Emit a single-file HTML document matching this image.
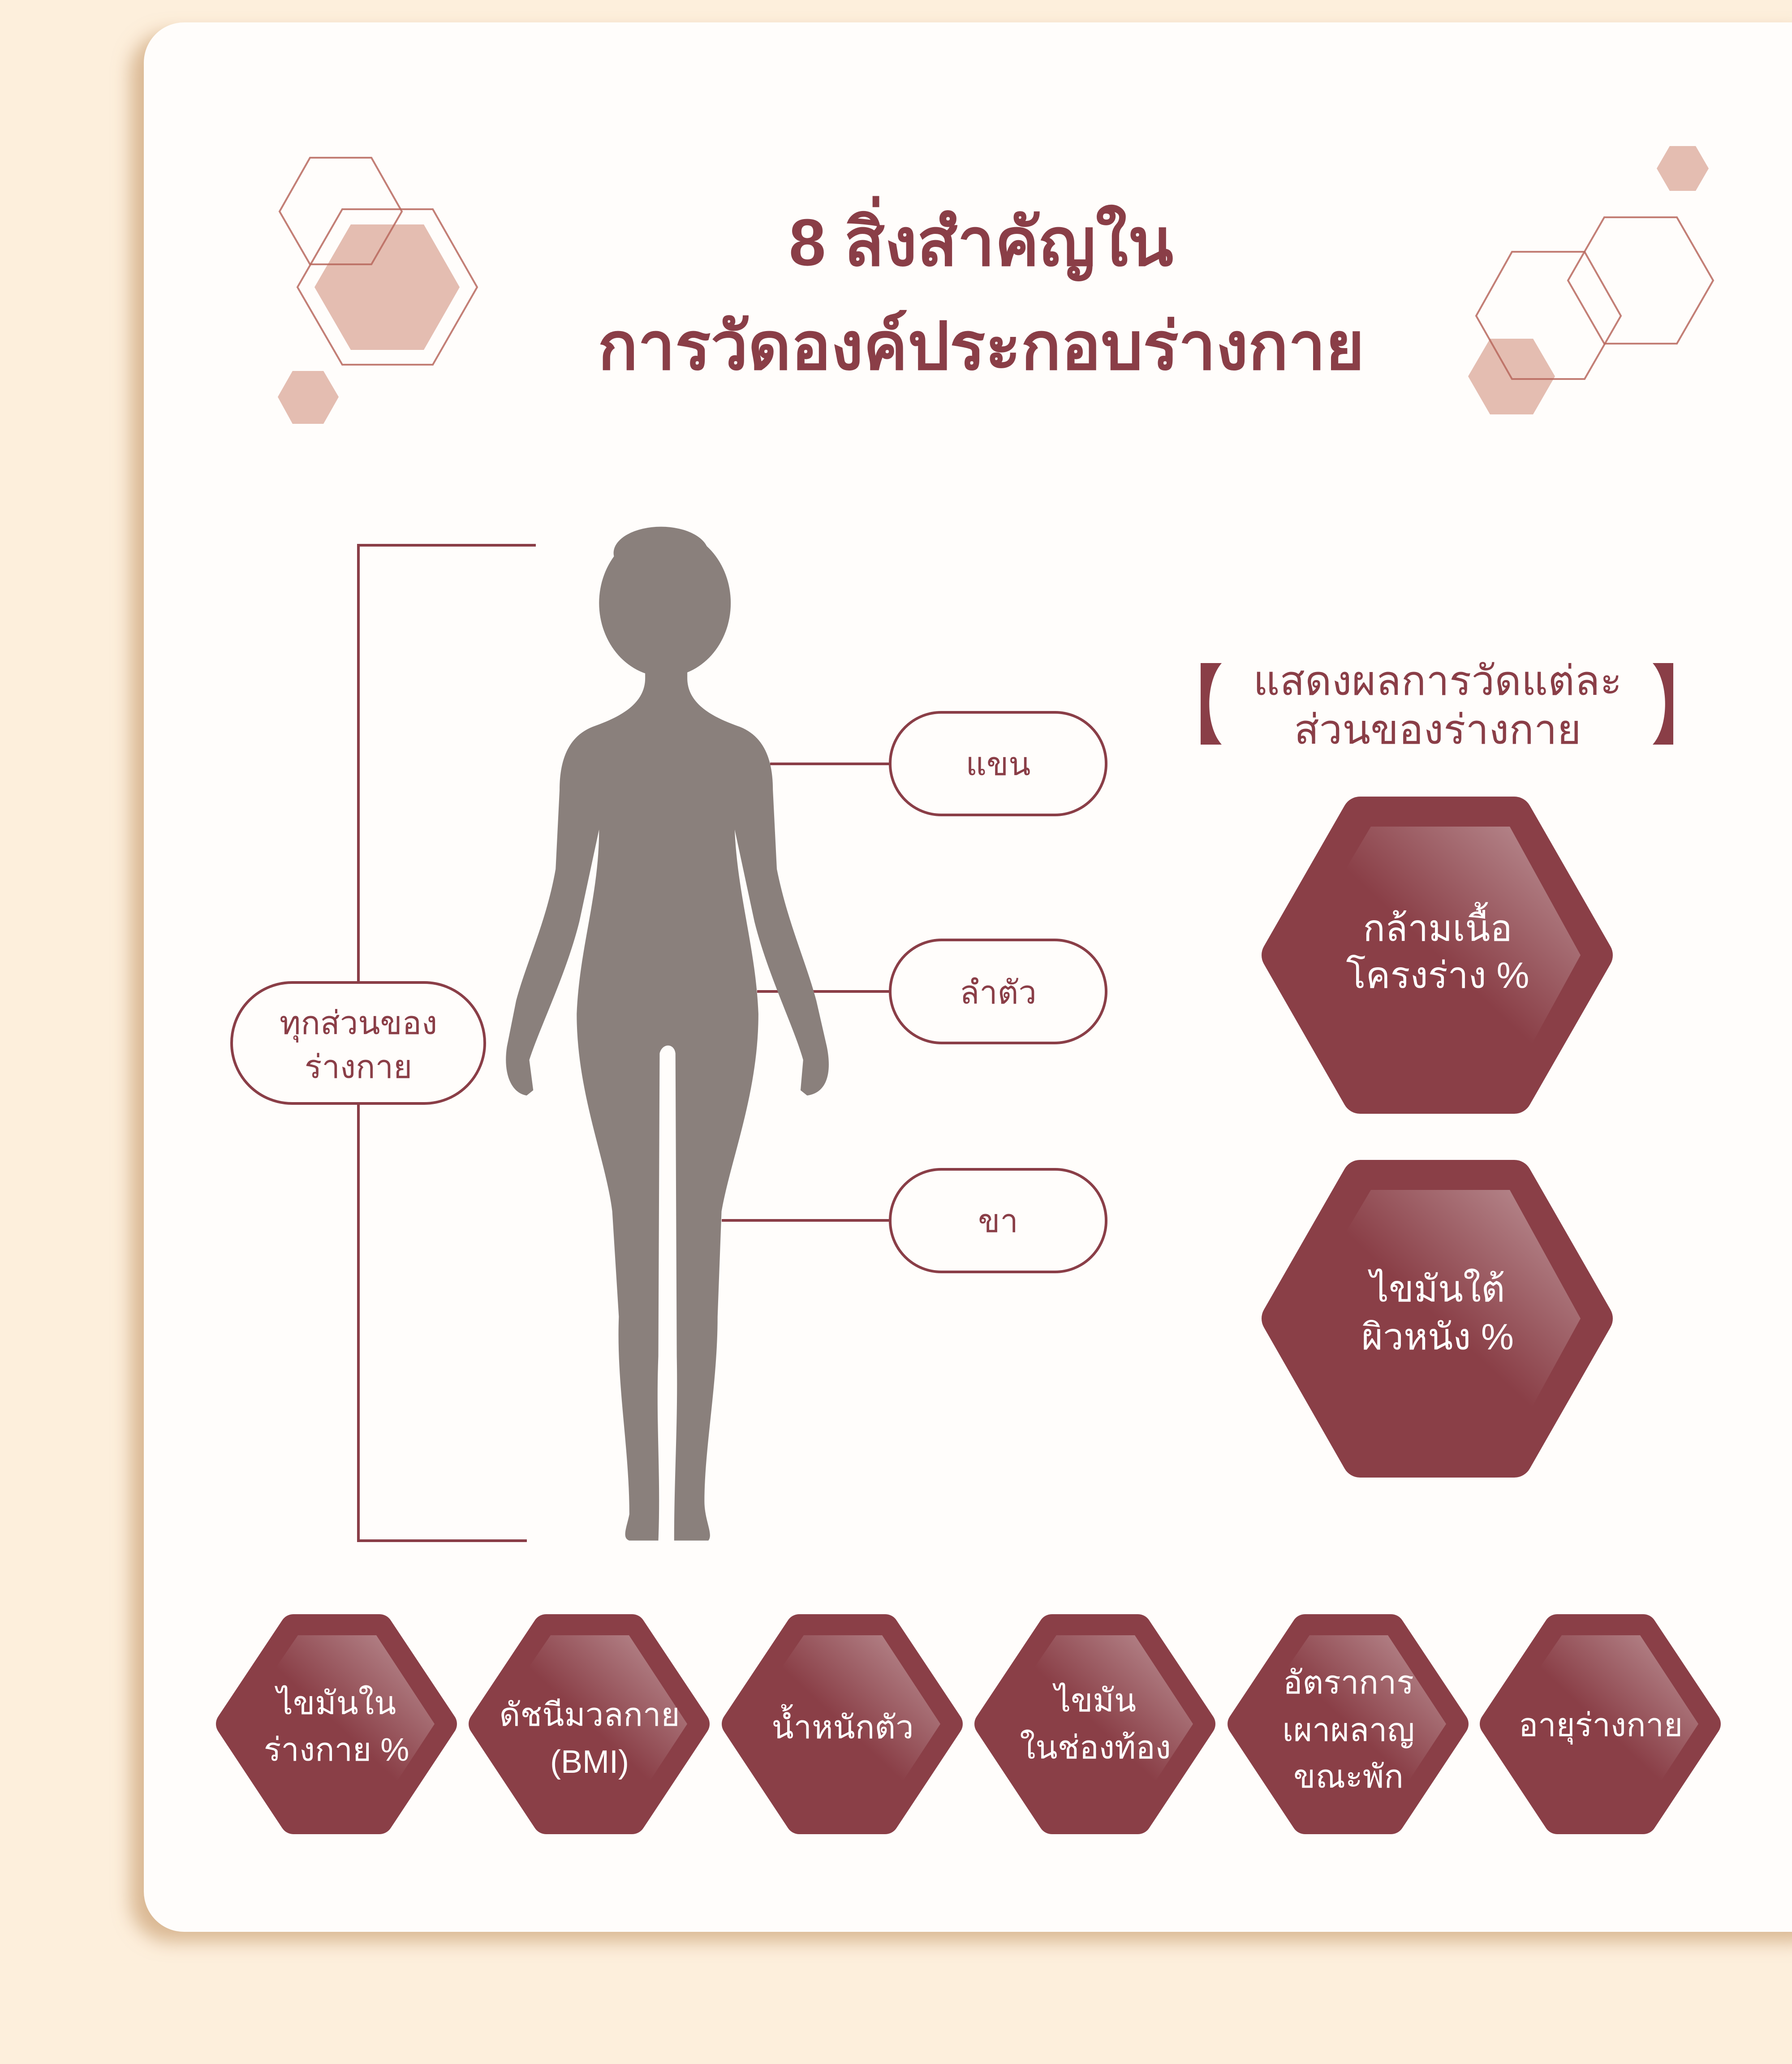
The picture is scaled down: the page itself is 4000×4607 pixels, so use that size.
<!DOCTYPE html>
<html><head><meta charset="utf-8"><style>
html,body{margin:0;padding:0;}
body{width:4000px;height:4607px;background:#fdefdc;position:relative;overflow:hidden;font-family:"Liberation Sans","DejaVu Sans",sans-serif;}
.card{position:absolute;left:321px;top:50px;width:3800px;height:4262px;background:#fffdfb;border-radius:90px;box-shadow:-30px 22px 40px rgba(190,140,90,.55);}
svg{position:absolute;left:0;top:0;}
</style></head><body>
<div class="card"></div>
<svg width="4000" height="4607" viewBox="0 0 4000 4607" xmlns="http://www.w3.org/2000/svg">
<defs>
<linearGradient id="gl" x1="0.9" y1="0.02" x2="0.45" y2="0.45" gradientUnits="objectBoundingBox">
<stop offset="0" stop-color="#fff" stop-opacity="0.4"/>
<stop offset="1" stop-color="#fff" stop-opacity="0"/>
</linearGradient>
</defs>

<!-- decorative hexes left -->
<polygon points="653,828 722,828 756,886 722,946 653,946 620,886" fill="#e4bdb1"/>
<polygon points="783,501 946,501 1026,641 946,781 783,781 702,641" fill="#e4bdb1"/>
<polygon points="692,352 829,352 897,472 829,590 692,590 624,472" fill="none" stroke="#b9685e" stroke-width="4" stroke-opacity="0.85"/>
<polygon points="764,467 966,467 1065,641 966,814 764,814 664,641" fill="none" stroke="#b9685e" stroke-width="4" stroke-opacity="0.85"/>
<!-- decorative hexes right -->
<polygon points="3727,326 3785,326 3814,376 3785,426 3727,426 3698,376" fill="#e4bdb1"/>
<polygon points="3326,756 3422,756 3471,840 3422,925 3326,925 3277,840" fill="#e4bdb1"/>
<polygon points="3375,562 3537,562 3618,705 3537,846 3375,846 3295,705" fill="none" stroke="#b9685e" stroke-width="4" stroke-opacity="0.85"/>
<polygon points="3581,485 3743,485 3824,626 3743,767 3581,767 3500,626" fill="none" stroke="#b9685e" stroke-width="4" stroke-opacity="0.85"/>

<!-- title -->
<g fill="#8a3e47" font-weight="bold" font-size="148" text-anchor="middle">
<text x="2190" y="592">8 สิ่งสำคัญใน</text>
<text x="2190" y="824">การวัดองค์ประกอบร่างกาย</text>
</g>

<!-- bracket lines -->
<g stroke="#8a3e47" stroke-width="6" fill="none">
<polyline points="1196,1217 800,1217 800,3439 1176,3439"/>
<line x1="1719" y1="1705" x2="1990" y2="1705"/>
<line x1="1690" y1="2213" x2="1990" y2="2213"/>
<line x1="1611" y1="2724" x2="1990" y2="2724"/>
<rect x="517" y="2193" width="565" height="270" rx="135" fill="#fffdfb"/>
<rect x="1987" y="1590" width="482" height="229" rx="114" fill="#fffdfb"/>
<rect x="1987" y="2098" width="482" height="230" rx="115" fill="#fffdfb"/>
<rect x="1987" y="2610" width="482" height="229" rx="114" fill="#fffdfb"/>
</g>
<g fill="#8a3e47" font-size="72" text-anchor="middle">
<text x="800" y="2308">ทุกส่วนของ</text>
<text x="800" y="2406">ร่างกาย</text>
<text x="2228" y="1730">แขน</text>
<text x="2228" y="2240">ลำตัว</text>
<text x="2228" y="2750">ขา</text>
</g>

<!-- silhouette -->
<g transform="scale(2.939)" fill="#8a807c">
<ellipse cx="505" cy="458" rx="50" ry="56"/>
<ellipse cx="502" cy="420" rx="36" ry="20"/>
<path d="M490 500 L490 515 C490 535 470 545 450 552 C430 560 425 580 425 600 L422 660 C415 700 400 730 392 760 L385 795 C382 815 388 830 400 832 L405 828 L402 805 C410 780 430 740 440 700 L455 630 C455 680 440 720 438 770 C438 830 460 880 465 920 L470 1000 C468 1050 478 1100 478 1150 C476 1160 472 1168 478 1170 L500 1170 C502 1120 498 1080 500 1030 L501 800 C503 792 512 792 513 800 L514 1030 C515 1080 512 1120 512 1170 L538 1170 C542 1165 535 1155 535 1140 C535 1100 545 1050 545 1000 L548 920 C555 880 576 830 576 770 C574 720 560 680 558 630 L573 700 C583 740 603 780 610 805 L608 828 L613 832 C628 830 632 815 628 795 L620 760 C612 730 598 700 590 660 L587 600 C587 580 582 560 562 552 C542 545 522 535 522 515 L522 500 Z"/>
</g>

<!-- header bracket -->
<g fill="#8a3e47">
<path d="M2727 1480 L2680 1480 L2680 1662 L2727 1662 C2690 1620 2690 1523 2727 1480 Z"/>
<path d="M3689 1480 L3735 1480 L3735 1662 L3689 1662 C3726 1620 3726 1523 3689 1480 Z"/>
<g font-size="92" text-anchor="middle">
<text x="3209" y="1551">แสดงผลการวัดแต่ละ</text>
<text x="3209" y="1660">ส่วนของร่างกาย</text>
</g>
</g>

<!-- big hexes -->
<g stroke="#8a3f47" stroke-width="80" stroke-linejoin="round" fill="#8a3f47">
<polygon points="2856,2132 3036,1818 3380,1818 3560,2132 3380,2446 3036,2446"/>
<polygon points="2856,2943 3036,2629 3380,2629 3560,2943 3380,3258 3036,3258"/>
</g>
<g fill="url(#gl)">
<polygon points="2890,2132 3060,1845 3370,1845 3528,2132 3370,2420 3060,2420"/>
<polygon points="2890,2943 3060,2656 3370,2656 3528,2943 3370,3231 3060,3231"/>
</g>
<g fill="#fff" font-size="82" text-anchor="middle">
<text x="3209" y="2100">กล้ามเนื้อ</text>
<text x="3209" y="2205">โครงร่าง %</text>
<text x="3209" y="2905">ไขมันใต้</text>
<text x="3209" y="3012">ผิวหนัง %</text>
</g>

<!-- bottom hexes -->
<g stroke="#8a3f47" stroke-width="60" stroke-linejoin="round" fill="#8a3f47">
<polygon points="512,3848 655,3633 847,3633 990,3848 847,4064 655,4064"/>
<polygon points="1076,3848 1219,3633 1411,3633 1554,3848 1411,4064 1219,4064"/>
<polygon points="1641,3848 1784,3633 1976,3633 2119,3848 1976,4064 1784,4064"/>
<polygon points="2205,3848 2348,3633 2540,3633 2683,3848 2540,4064 2348,4064"/>
<polygon points="2770,3848 2913,3633 3105,3633 3248,3848 3105,4064 2913,4064"/>
<polygon points="3333,3848 3476,3633 3668,3633 3811,3848 3668,4064 3476,4064"/>
</g>
<g fill="url(#gl)">
<polygon points="530,3848 665,3650 840,3650 970,3848 840,4046 665,4046"/>
<polygon points="1094,3848 1229,3650 1404,3650 1534,3848 1404,4046 1229,4046"/>
<polygon points="1659,3848 1794,3650 1969,3650 2099,3848 1969,4046 1794,4046"/>
<polygon points="2223,3848 2358,3650 2533,3650 2663,3848 2533,4046 2358,4046"/>
<polygon points="2788,3848 2923,3650 3098,3650 3228,3848 3098,4046 2923,4046"/>
<polygon points="3351,3848 3486,3650 3661,3650 3791,3848 3661,4046 3486,4046"/>
</g>
<g fill="#fff" font-size="72" text-anchor="middle">
<text x="751" y="3826">ไขมันใน</text>
<text x="751" y="3930">ร่างกาย %</text>
<text x="1316" y="3852">ดัชนีมวลกาย</text>
<text x="1316" y="3957">(BMI)</text>
<text x="1881" y="3880">น้ำหนักตัว</text>
<text x="2445" y="3820">ไขมัน</text>
<text x="2445" y="3925">ในช่องท้อง</text>
<text x="3010" y="3780">อัตราการ</text>
<text x="3010" y="3886">เผาผลาญ</text>
<text x="3010" y="3990">ขณะพัก</text>
<text x="3573" y="3875">อายุร่างกาย</text>
</g>
</svg>
</body></html>
